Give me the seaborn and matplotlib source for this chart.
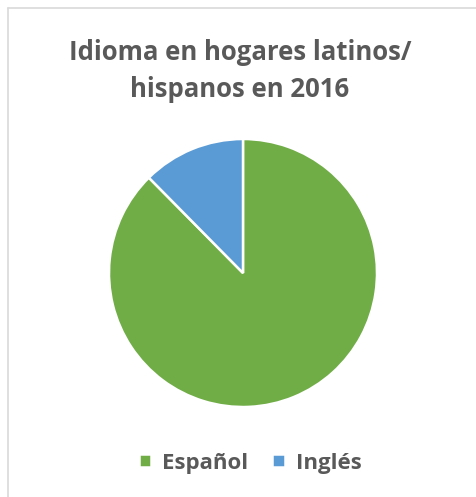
import matplotlib.pyplot as plt
import seaborn as sns
from matplotlib.lines import Line2D

labels = ["Español", "Inglés"]
shares = [87.6, 12.4]
colors = ["#70AD47", "#5B9BD5"]
title = "Idioma en hogares latinos/\nhispanos en 2016"

sns.set_theme(style="white")
plt.rcParams['font.family'] = ['Open Sans', 'DejaVu Sans']

W, H = 477, 497
fig = plt.figure(figsize=(W / 100, H / 100), dpi=100)
fig.patch.set_facecolor("white")

# pie area: centre ~ (243, 273) px, radius ~ 134 px
cx, cy, r = 243, 273, 134
ax = fig.add_axes([(cx - r) / W, (H - cy - r) / H, 2 * r / W, 2 * r / H])
wedges, _ = ax.pie(shares, colors=colors, startangle=90, counterclock=False,
                   wedgeprops=dict(edgecolor="white", linewidth=1.8))
ax.set_xlim(-1, 1)
ax.set_ylim(-1, 1)
ax.axis("off")

fig.text(240 / W, 1 - 71 / H, title, ha="center", va="center",
         fontsize=18.5, fontweight="bold", color="#595959", linespacing=1.47)

fig.legend(wedges, labels, loc="center", bbox_to_anchor=(250 / W, 1 - 463 / H),
           ncol=2, frameon=False, handlelength=0.55, handleheight=0.55,
           handletextpad=0.5, columnspacing=1.1,
           prop=dict(size=16, weight="bold"), labelcolor="#595959")

# light chart border (top and left visible)
fig.add_artist(Line2D([8 / W, 8 / W], [0, 1 - 8 / H], transform=fig.transFigure,
                      color="#D9D9D9", linewidth=1.2))
fig.add_artist(Line2D([8 / W, 1], [1 - 8 / H, 1 - 8 / H], transform=fig.transFigure,
                      color="#D9D9D9", linewidth=1.2))

fig.savefig("out.png", dpi=100, facecolor="white")
